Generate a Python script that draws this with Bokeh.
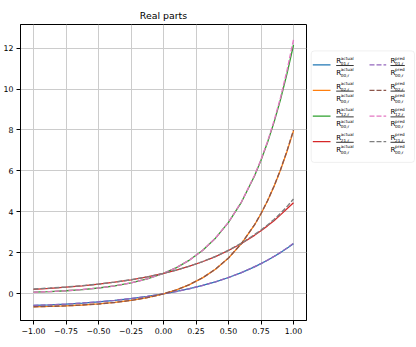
from bokeh.plotting import figure
from bokeh.models import Range1d, FixedTicker, ColumnDataSource, BoxAnnotation
from bokeh.layouts import row
from bokeh.embed import file_html
from bokeh.resources import INLINE
from bokeh.core.properties import value

# ---- data ----
x_vals = [-1.0, -0.875, -0.75, -0.625, -0.5, -0.375, -0.25, -0.125, 0.0,
          0.1, 0.2, 0.3, 0.4, 0.5, 0.6, 0.7, 0.75, 0.8, 0.85, 0.9, 0.95, 1.0]

r01_actual = [-0.56, -0.535, -0.497, -0.447, -0.387, -0.315, -0.228, -0.124, 0.0,
              0.117, 0.252, 0.409, 0.589, 0.799, 1.04, 1.32, 1.475, 1.642, 1.822, 2.016, 2.224, 2.45]
r02_actual = [-0.63, -0.61, -0.582, -0.544, -0.492, -0.42, -0.321, -0.186, 0.0,
              0.198, 0.453, 0.782, 1.205, 1.752, 2.456, 3.364, 3.912, 4.534, 5.241, 6.043, 6.954, 7.95]
r12_actual = [0.082, 0.112, 0.153, 0.21, 0.287, 0.392, 0.535, 0.732, 1.0,
              1.284, 1.649, 2.117, 2.718, 3.49, 4.482, 5.755, 6.521, 7.389, 8.373, 9.488, 10.751, 12.15]
r21_actual = [0.223, 0.269, 0.325, 0.392, 0.472, 0.57, 0.687, 0.829, 1.0,
              1.162, 1.35, 1.568, 1.822, 2.117, 2.46, 2.858, 3.08, 3.32, 3.574, 3.857, 4.158, 4.45]

r01_pred = [-0.56, -0.535, -0.497, -0.447, -0.387, -0.315, -0.228, -0.124, 0.0,
            0.117, 0.252, 0.409, 0.589, 0.8, 1.042, 1.324, 1.48, 1.648, 1.83, 2.026, 2.24, 2.47]
r02_pred = [-0.63, -0.61, -0.582, -0.544, -0.492, -0.42, -0.321, -0.186, 0.0,
            0.198, 0.453, 0.782, 1.206, 1.754, 2.46, 3.37, 3.92, 4.545, 5.255, 6.06, 6.98, 8.0]
r12_pred = [0.082, 0.112, 0.153, 0.21, 0.287, 0.392, 0.535, 0.732, 1.0,
            1.284, 1.65, 2.12, 2.722, 3.497, 4.495, 5.78, 6.555, 7.43, 8.43, 9.57, 10.9, 12.4]
r21_pred = [0.24, 0.283, 0.335, 0.4, 0.478, 0.574, 0.69, 0.831, 1.0,
            1.164, 1.353, 1.573, 1.83, 2.13, 2.48, 2.89, 3.12, 3.36, 3.63, 3.93, 4.26, 4.63]

x_ticks = [-1.0, -0.75, -0.5, -0.25, 0.0, 0.25, 0.5, 0.75, 1.0]
x_tick_labels = ["\u22121.00", "\u22120.75", "\u22120.50", "\u22120.25", "0.00",
                 "0.25", "0.50", "0.75", "1.00"]
y_ticks = [0, 2, 4, 6, 8, 10, 12]
y_tick_labels = ["0", "2", "4", "6", "8", "10", "12"]

title_text = "Real parts"
legend_indices = ["01", "02", "12", "21"]
legend_kinds = ["actual", "pred"]
denominator_index = "00"

actual_series = [r01_actual, r02_actual, r12_actual, r21_actual]
pred_series = [r01_pred, r02_pred, r12_pred, r21_pred]
actual_colors = ["#1f77b4", "#ff7f0e", "#2ca02c", "#d62728"]
pred_colors = ["#9467bd", "#8c564b", "#e377c2", "#7f7f7f"]

FONT = "DejaVu Sans"
H = 347

# ---- main plot ----
p = figure(width=308, height=H, x_range=Range1d(-1.1, 1.1), y_range=Range1d(-1.3, 13.15),
           output_backend="svg", toolbar_location=None, title=title_text,
           min_border_left=0, min_border_right=2, min_border_top=24, min_border_bottom=27)
p.title.align = "center"
p.title.text_font = FONT
p.title.text_font_size = "9.4px"
p.title.text_font_style = "normal"
p.title.text_color = "black"
p.title.standoff = 7
p.outline_line_color = "black"
p.outline_line_width = 1
p.outline_line_alpha = 1

p.xaxis.ticker = FixedTicker(ticks=x_ticks)
p.xaxis.major_label_overrides = {t: l for t, l in zip(x_ticks, x_tick_labels)}
p.yaxis.ticker = FixedTicker(ticks=y_ticks)
p.yaxis.major_label_overrides = {t: l for t, l in zip(y_ticks, y_tick_labels)}
for ax in p.axis:
    ax.minor_tick_line_color = None
    ax.major_tick_in = 0
    ax.major_tick_out = 4
    ax.major_tick_line_color = "black"
    ax.axis_line_color = "black"
    ax.major_label_standoff = 3
    ax.major_label_text_font = FONT
    ax.major_label_text_font_size = "7.8px"
    ax.major_label_text_color = "black"
p.grid.grid_line_color = "#cccccc"
p.grid.grid_line_width = 1

for ys, c in zip(actual_series, actual_colors):
    p.line(x_vals, ys, line_color=c, line_width=1.3)
for ys, c in zip(pred_series, pred_colors):
    p.line(x_vals, ys, line_color=c, line_width=1.4, line_dash="5 2")

# ---- legend panel ----
LW = 108
lg = figure(width=LW, height=H, x_range=Range1d(0, LW), y_range=Range1d(H, 0),
            output_backend="svg", toolbar_location=None,
            x_axis_type=None, y_axis_type=None, min_border=0)
lg.outline_line_color = None
lg.add_layout(BoxAnnotation(left=2.7, right=106, top=31, bottom=161.7,
                            fill_color="white", fill_alpha=1, level="underlay",
                            line_color="#cccccc", line_width=1, border_radius=3))

row_y = [47.3, 77.3, 107.5, 137.3]
col_line_x = [(4.3, 22), (61, 77.7)]
col_label_x = [27.7, 82]
col_colors = [actual_colors, pred_colors]
col_dash = ["solid", "5 2"]

big = dict(x=[], y=[], text=[])
small = dict(x=[], y=[], text=[])
bars_x, bars_y = [], []
for ci, kind in enumerate(legend_kinds):
    for ri, idx in enumerate(legend_indices):
        ry = row_y[ri]
        x0, x1 = col_line_x[ci]
        lg.line([x0, x1], [ry, ry], line_color=col_colors[ci][ri],
                line_width=1.3, line_dash=col_dash[ci])
        lx = col_label_x[ci]
        sup_w = 12.9 if kind == "actual" else 9.7
        for off, sub in ((0, idx), (14, denominator_index)):
            big["x"].append(lx); big["y"].append(ry - 4.5 + off); big["text"].append("R")
            small["x"].append(lx + 4.6); small["y"].append(ry - 8 + off); small["text"].append(kind)
            small["x"].append(lx + 4.6); small["y"].append(ry - 1.5 + off); small["text"].append(sub + ",r")
        bars_x.append([lx, lx + 4.6 + sup_w])
        bars_y.append([ry + 0.8, ry + 0.8])

lg.text(x="x", y="y", text="text", source=ColumnDataSource(big),
        text_font=value(FONT), text_font_size=value("7px"),
        text_baseline="alphabetic", text_align="left", text_color="black")
lg.text(x="x", y="y", text="text", source=ColumnDataSource(small),
        text_font=value(FONT), text_font_size=value("4.2px"),
        text_baseline="alphabetic", text_align="left", text_color="black")
lg.multi_line(xs=bars_x, ys=bars_y, line_color="black", line_width=0.8)

layout = row(p, lg)
open("out.html", "w").write(file_html(layout, INLINE))
